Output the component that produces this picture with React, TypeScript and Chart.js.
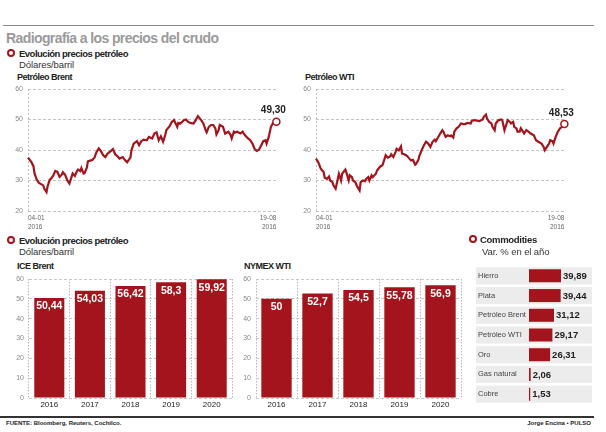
import React, { useEffect, useRef } from 'react';
import { Chart, registerables } from 'chart.js';

Chart.register(...registerables);

const RED = '#a3141c';
const FONT = '"Liberation Sans", Arial, Helvetica, sans-serif';

// Line charts (day of year 2016 → price, USD/barrel)
const brentDays = [4,7,9,10,12,14,16,18,19,21,22,24,25,27,29,31,33,35,36,38,40,42,44,45,47,49,50,52,53,55,56,58,59,61,63,65,67,69,71,73,75,77,79,82,84,86,88,91,93,95,98,99,101,104,106,108,110,113,115,118,120,122,124,126,128,130,131,134,136,138,141,142,144,147,149,151,153,156,158,160,163,165,167,168,170,172,174,176,177,179,180,183,185,188,190,191,193,194,196,199,201,203,206,208,210,212,214,216,218,220,222,223,225,227,229,232];
const brentValues = [37.5,36.1,34.7,32.3,30.3,29.2,28.8,28.4,27.3,26.2,28.1,30.3,30.5,31.5,33.1,32.8,31.2,31.9,32.7,31.9,30.1,29.0,31.2,32.3,31.5,33.1,33.6,33.1,34.1,32.3,32.5,34.2,36.3,36.5,36.7,37.5,39.4,40.5,39.6,38.3,37.7,38.8,39.4,40.3,38.6,38.0,37.2,37.7,36.7,36.0,37.5,39.9,42.1,42.9,41.6,42.9,43.4,43.2,44.3,43.8,45.4,45.8,43.2,44.5,42.7,44.9,46.5,47.8,49.2,49.8,47.6,48.9,48.7,49.8,50.0,49.2,48.9,48.7,49.8,51.1,49.8,48.7,46.5,45.8,47.6,48.2,48.2,47.1,45.1,46.5,48.2,47.6,45.4,46.0,44.9,43.8,46.0,45.7,46.0,45.4,46.0,44.9,43.8,43.2,42.1,40.4,39.7,40.1,41.5,42.9,43.2,42.1,44.3,47.6,48.9,49.3];
const wtiDays = [4,6,8,9,11,12,14,16,17,19,20,22,24,25,27,28,31,32,34,35,37,38,40,42,44,45,47,49,50,52,53,55,56,59,60,63,65,67,68,70,72,73,75,77,78,80,82,83,85,87,88,91,93,95,96,98,99,101,103,105,107,109,111,113,114,116,118,120,121,123,125,127,128,130,131,133,135,137,139,141,143,146,147,150,152,154,157,158,160,161,163,165,166,168,169,171,172,174,175,177,179,180,182,183,185,186,188,189,191,192,194,195,197,199,201,204,206,208,211,213,214,216,218,219,221,222,224,226,228,230,232];
const wtiValues = [37.2,36.1,34.2,33.6,32.8,30.9,30.5,31.3,30.0,29.5,28.4,27.3,30.5,32.2,30.0,32.2,33.6,32.5,30.0,31.7,31.1,30.0,29.5,27.9,26.7,29.5,30.0,29.8,30.5,31.1,30.0,31.7,31.1,32.2,33.3,34.6,35.0,37.2,38.3,37.5,37.9,38.6,37.7,39.3,40.4,39.9,41.2,38.8,38.6,38.2,37.9,36.6,36.8,35.2,35.5,36.8,38.2,39.9,41.5,42.7,42.1,41.0,42.7,43.4,42.9,44.1,45.4,46.5,46.0,44.3,44.8,44.5,44.8,44.1,46.0,47.1,47.6,48.7,48.5,48.5,48.9,48.7,49.6,49.8,49.6,49.5,50.0,50.9,51.6,50.3,49.2,48.7,47.6,46.5,48.7,49.6,49.8,50.0,49.8,46.5,48.7,49.8,49.2,48.7,49.2,47.6,47.1,46.0,46.0,47.1,46.0,45.4,46.5,46.0,45.4,44.8,43.2,42.7,42.1,41.0,39.9,41.0,42.1,43.2,42.9,42.1,44.3,46.0,47.1,47.6,48.53];
const lineTicks = [20, 30, 40, 50, 60];
const dateTickDays = [4, 232];
const dateTickLabels = [['04-01', '2016'], ['19-08', '2016']];

// Bar charts
const years = ['2016', '2017', '2018', '2019', '2020'];
const iceBrentValues = [50.44, 54.03, 56.42, 58.3, 59.92];
const nymexWtiValues = [50, 52.7, 54.5, 55.78, 56.9];

// Commodities
const commodityNames = ['Hierro', 'Plata', 'Petróleo Brent', 'Petróleo WTI', 'Oro', 'Gas natural', 'Cobre'];
const commodityValues = [39.89, 39.44, 31.12, 29.17, 26.31, 2.06, 1.53];

const fmt = (v: number) => String(v).replace('.', ',');
const fmt2 = (v: number) => v.toFixed(2).replace('.', ',');

const noPad = (s: any) => { s.paddingTop = 0; s.paddingBottom = 0; };

const lastLabelPlugin = (text: string) => ({
  id: 'lastLabel',
  afterDatasetsDraw(chart: any) {
    const meta = chart.getDatasetMeta(0);
    const pt = meta.data[meta.data.length - 1];
    const ctx = chart.ctx;
    ctx.save();
    ctx.font = `bold 10px ${FONT}`;
    ctx.fillStyle = '#222';
    ctx.textAlign = 'center';
    ctx.textBaseline = 'middle';
    ctx.fillText(text, pt.x - 3, pt.y - 11);
    ctx.restore();
  },
});

function lineConfig(days: number[], values: number[]): any {
  const n = values.length;
  return {
    type: 'line',
    data: {
      datasets: [{
        data: days.map((d, i) => ({ x: d, y: values[i] })),
        borderColor: RED,
        borderWidth: 2.2,
        tension: 0,
        pointRadius: (c: any) => (c.dataIndex === n - 1 ? 3.5 : 0),
        pointBackgroundColor: '#fff',
        pointBorderColor: RED,
        pointBorderWidth: 1.5,
        clip: false,
      }],
    },
    options: {
      animation: false,
      responsive: false,
      layout: { padding: { top: 6, right: 14, left: 0, bottom: 0 } },
      plugins: { legend: { display: false }, tooltip: { enabled: false } },
      scales: {
        x: {
          type: 'linear', min: 4, max: 233.5,
          afterBuildTicks: (s: any) => { s.ticks = dateTickDays.map((v) => ({ value: v })); },
          afterFit: (s: any) => { s.height = 20; },
          ticks: {
            autoSkip: false, maxRotation: 0, align: 'inner', padding: 3, color: '#666',
            font: { family: FONT, size: 6.5, lineHeight: 1.35 },
            callback: (_v: any, i: number) => dateTickLabels[i],
          },
          grid: { color: (c: any) => (c.index === 0 ? '#bdbdbd' : 'rgba(0,0,0,0)'), drawTicks: false },
          border: { display: false, dash: [2, 2] },
        },
        y: {
          min: 20, max: 60,
          afterBuildTicks: (s: any) => { s.ticks = lineTicks.map((v) => ({ value: v })); },
          afterFit: (s: any) => { s.width = 26; noPad(s); },
          ticks: { padding: 5, color: '#888', font: { family: FONT, size: 7 } },
          grid: { color: '#c4c4c4', drawTicks: false },
          border: { display: false, dash: [3, 2] },
        },
      },
    },
  };
}

const barValuePlugin = {
  id: 'barValues',
  afterDatasetsDraw(chart: any) {
    const meta = chart.getDatasetMeta(0);
    const ctx = chart.ctx;
    const data = chart.data.datasets[0].data;
    ctx.save();
    ctx.font = `bold 10.5px ${FONT}`;
    ctx.fillStyle = '#fff';
    ctx.textAlign = 'center';
    ctx.textBaseline = 'middle';
    meta.data.forEach((bar: any, i: number) => {
      ctx.fillText(fmt(data[i]), bar.x, bar.y + 8.5);
    });
    ctx.restore();
  },
};

function barConfig(values: number[]): any {
  return {
    type: 'bar',
    data: {
      labels: years,
      datasets: [{ data: values, backgroundColor: RED, barPercentage: 0.74, categoryPercentage: 1 }],
    },
    options: {
      animation: false,
      responsive: false,
      layout: { padding: { top: 6, right: 2, left: 0, bottom: 0 } },
      plugins: { legend: { display: false }, tooltip: { enabled: false } },
      scales: {
        x: {
          afterFit: (s: any) => { s.height = 14; },
          ticks: { padding: 2, color: '#222', font: { family: FONT, size: 8 } },
          grid: { offset: true, color: '#b8b8b8', drawTicks: false },
          border: { display: false, dash: [1.5, 1.5] },
        },
        y: {
          min: 0, max: 60,
          afterFit: (s: any) => { s.width = 26; noPad(s); },
          ticks: { stepSize: 10, padding: 5, color: '#888', font: { family: FONT, size: 7 } },
          grid: { color: '#c8c8c8', drawTicks: false },
          border: { display: false, dash: [3, 2] },
        },
      },
    },
    plugins: [barValuePlugin],
  };
}

const rowBgPlugin = {
  id: 'rowBg',
  beforeDraw(chart: any) {
    const ctx = chart.ctx;
    const y = chart.scales.y;
    const pitch = (y.bottom - y.top) / commodityNames.length;
    ctx.save();
    ctx.fillStyle = '#ececec';
    commodityNames.forEach((_n, i) => {
      const cy = y.getPixelForValue(i);
      ctx.fillRect(0, cy - pitch / 2 + 1.3, chart.width - 2, pitch - 2.6);
    });
    ctx.restore();
  },
  afterDatasetsDraw(chart: any) {
    const meta = chart.getDatasetMeta(0);
    const ctx = chart.ctx;
    ctx.save();
    ctx.font = `bold 9.5px ${FONT}`;
    ctx.fillStyle = '#222';
    ctx.textAlign = 'left';
    ctx.textBaseline = 'middle';
    meta.data.forEach((bar: any, i: number) => {
      ctx.fillText(fmt2(commodityValues[i]), bar.x + 2, bar.y + 0.5);
    });
    ctx.restore();
  },
};

function commodityConfig(): any {
  return {
    type: 'bar',
    data: {
      labels: commodityNames,
      datasets: [{ data: commodityValues, backgroundColor: RED, barPercentage: 0.66, categoryPercentage: 1 }],
    },
    options: {
      indexAxis: 'y',
      animation: false,
      responsive: false,
      layout: { padding: { top: 0, right: 2, left: 2, bottom: 0 } },
      plugins: { legend: { display: false }, tooltip: { enabled: false } },
      scales: {
        x: { display: false, min: 0, max: 78.5 },
        y: {
          afterFit: (s: any) => { s.width = 51; noPad(s); },
          ticks: { crossAlign: 'far', padding: 0, color: '#444', font: { family: FONT, size: 7.5 } },
          grid: { display: false },
          border: { display: false },
        },
      },
    },
    plugins: [rowBgPlugin],
  };
}

function ChartBox({ left, top, width, height, make, extra }: any) {
  const ref = useRef<HTMLCanvasElement>(null);
  useEffect(() => {
    const cfg = make();
    if (extra) cfg.plugins = [...(cfg.plugins || []), extra];
    const chart = new Chart(ref.current as HTMLCanvasElement, cfg);
    return () => chart.destroy();
  }, []);
  return (
    <canvas
      ref={ref}
      width={width}
      height={height}
      style={{ position: 'absolute', left, top, width, height }}
    />
  );
}

function T({ x, y, size, bold, color, children, ls, align }: any) {
  const style: any = {
    position: 'absolute',
    top: y,
    fontFamily: FONT,
    fontSize: size,
    fontWeight: bold ? 700 : 400,
    color: color || '#222',
    lineHeight: 1,
    whiteSpace: 'nowrap',
    letterSpacing: ls || 0,
  };
  if (align === 'right') style.right = 606 - x; else style.left = x;
  return <div style={style}>{children}</div>;
}

function Marker({ x, y }: any) {
  return (
    <div style={{
      position: 'absolute', left: x - 4, top: y - 4, width: 8, height: 8,
      boxSizing: 'border-box', border: `2.5px solid ${RED}`, borderRadius: '50%', background: '#fff',
    }} />
  );
}

export default function App() {
  return (
    <div style={{ position: 'absolute', left: 0, top: 0, width: 606, height: 432, background: '#fff', overflow: 'hidden' }}>
      <div style={{ position: 'absolute', left: 3, top: 25, width: 591, height: 1, background: '#8a8a8a' }} />
      <T x={6} y={30.5} size={14} bold color="#9a9a9a" ls={-0.6}>Radiografía a los precios del crudo</T>

      <Marker x={11} y={53} />
      <T x={19} y={49.3} size={9.5} bold ls={-0.5}>Evolución precios petróleo</T>
      <T x={19} y={60} size={9.5} color="#333" ls={-0.1}>Dólares/barril</T>
      <T x={17} y={72.5} size={9} bold ls={-0.5}>Petróleo Brent</T>
      <T x={305} y={72.5} size={9} bold ls={-0.5}>Petróleo WTI</T>

      <ChartBox left={2} top={83} width={290} height={148} make={() => lineConfig(brentDays, brentValues)} extra={lastLabelPlugin(fmt2(brentValues[brentValues.length - 1]))} />
      <ChartBox left={290} top={83} width={290} height={148} make={() => lineConfig(wtiDays, wtiValues)} extra={lastLabelPlugin(fmt2(wtiValues[wtiValues.length - 1]))} />

      <Marker x={11} y={240} />
      <T x={19} y={236} size={9.5} bold ls={-0.5}>Evolución precios petróleo</T>
      <T x={19} y={246.5} size={9.5} color="#333" ls={-0.1}>Dólares/barril</T>
      <T x={17} y={262} size={9} bold ls={-0.5}>ICE Brent</T>
      <T x={244} y={262} size={9} bold ls={-0.5}>NYMEX WTI</T>

      <ChartBox left={3} top={273} width={231} height={139} make={() => barConfig(iceBrentValues)} />
      <ChartBox left={230} top={273} width={233} height={139} make={() => barConfig(nymexWtiValues)} />

      <Marker x={473} y={238.5} />
      <T x={480} y={234.5} size={9.5} bold ls={-0.3}>Commodities</T>
      <T x={482} y={246.5} size={9.5} color="#333" ls={-0.1}>Var. % en el año</T>
      <ChartBox left={476} top={266} width={118} height={138} make={commodityConfig} />

      <div style={{ position: 'absolute', left: 0, top: 416, width: 594, height: 2, background: '#333' }} />
      <T x={6} y={420} size={6} bold>FUENTE: Bloomberg, Reuters, Cochilco.</T>
      <T x={591} y={420} size={6} bold align="right">Jorge Encina • PULSO</T>
    </div>
  );
}
